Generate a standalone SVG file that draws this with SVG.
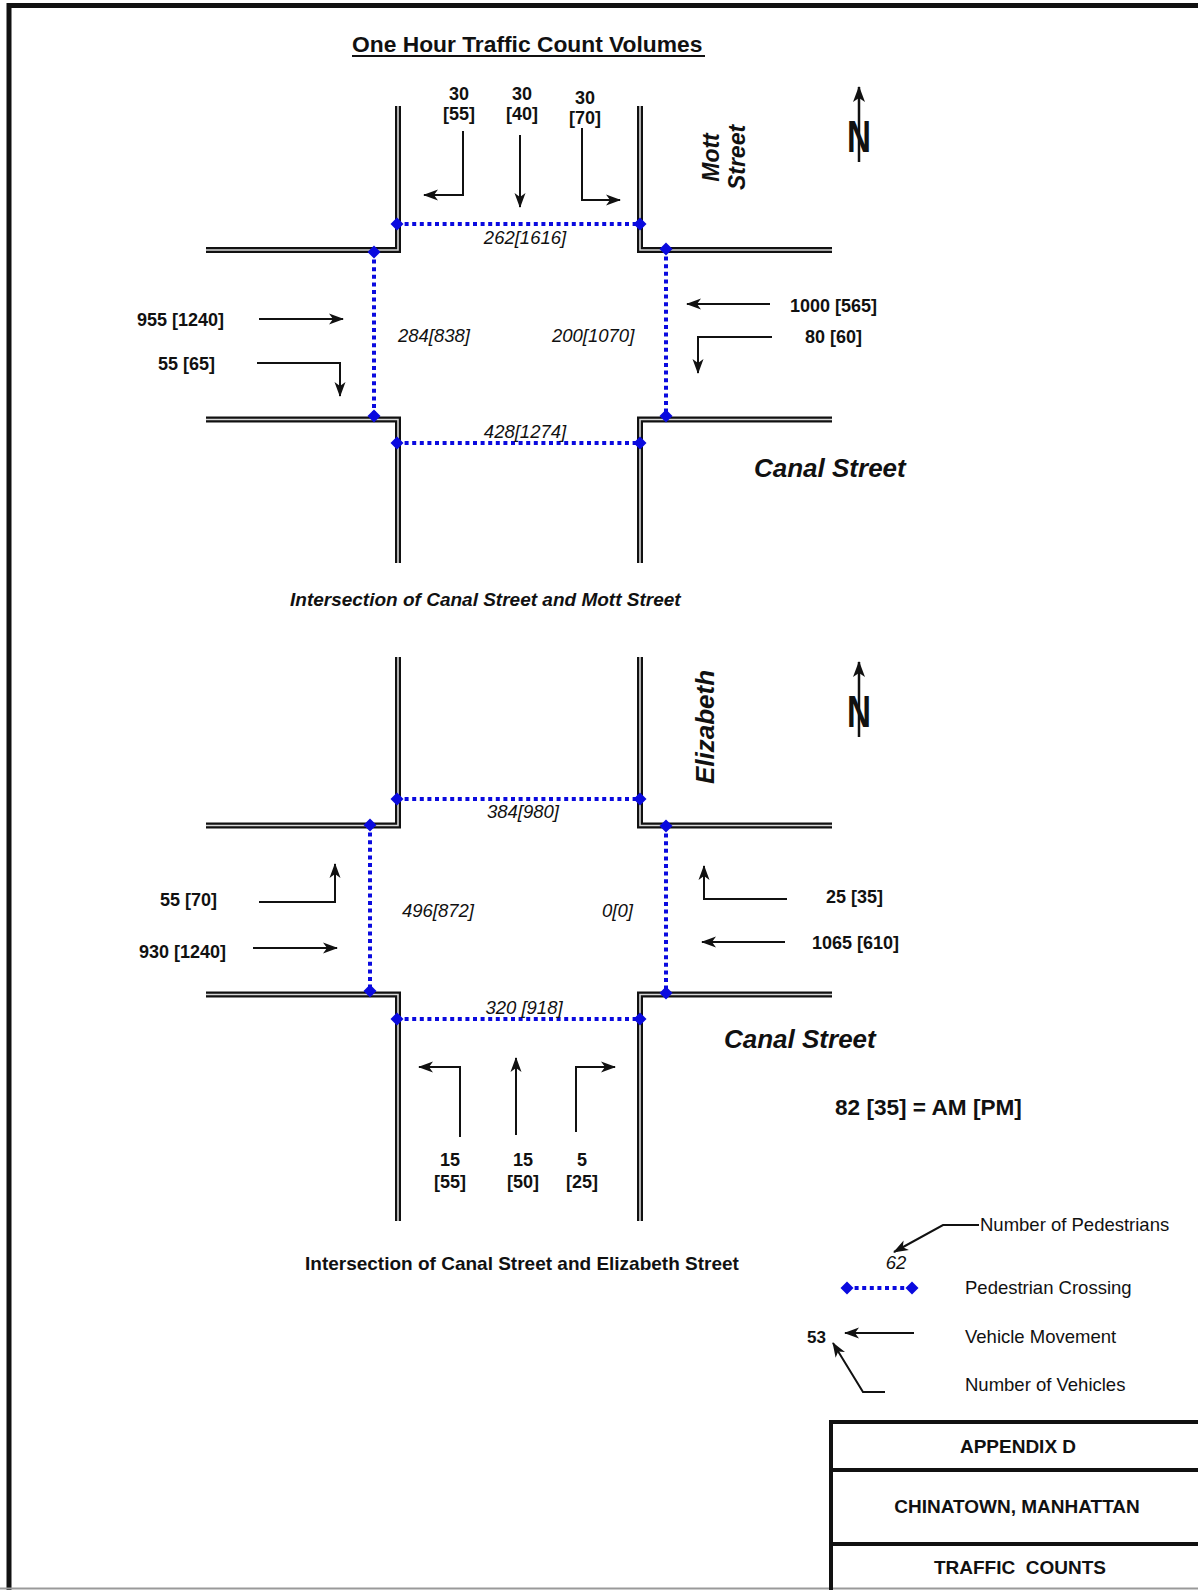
<svg xmlns="http://www.w3.org/2000/svg" width="1198" height="1590" viewBox="0 0 1198 1590">
<style>
text{font-family:"Liberation Sans",Arial,Helvetica,sans-serif;fill:#111}
.b{font-weight:bold}
.i{font-style:italic}
.num{font-size:18px;font-weight:bold}
.ped{font-size:18.5px;font-style:italic}
.road{fill:none;stroke:#111;stroke-width:6}
.roadin{fill:none;stroke:#d8d8d8;stroke-width:1.6}
.arr{fill:none;stroke:#111;stroke-width:2;marker-end:url(#ah)}
.xing{fill:none;stroke:#0a0adf;stroke-width:4;stroke-dasharray:4 3.6}
.leg{font-size:18.5px}
.box{fill:none;stroke:#111;stroke-width:4}
</style>
<defs>
<marker id="ah" markerUnits="userSpaceOnUse" markerWidth="16" markerHeight="12" refX="14" refY="6" orient="auto">
<path d="M0,0.5 L15,6 L0,11.5 L4,6 z" fill="#111"/>
</marker>
<marker id="ahN" markerUnits="userSpaceOnUse" markerWidth="16" markerHeight="14" refX="15" refY="6.5" orient="auto">
<path d="M0,0.5 L16,6.5 L0,12.5 L4,6.5 z" fill="#111"/>
</marker>
<path id="dia" d="M0,-6.5 L6.5,0 L0,6.5 L-6.5,0 z" fill="#0a0adf"/>
</defs>
<rect width="1198" height="1590" fill="#fff"/>

<g id="frame">
<path d="M9,1590 V5.5 H1198" fill="none" stroke="#111" stroke-width="5"/>
<line x1="0" y1="1588.5" x2="1198" y2="1588.5" stroke="#999" stroke-width="2"/>
</g>

<g id="title">
<text x="352" y="52" class="b" font-size="22.8">One Hour Traffic Count Volumes</text>
<line x1="352" y1="56" x2="705" y2="56" stroke="#111" stroke-width="2"/>
</g>

<g id="roads-top">
<path class="road" d="M206,250 H398 V106"/><path class="roadin" d="M206,250 H398 V106"/>
<path class="road" d="M640,106 V250 H832"/><path class="roadin" d="M640,106 V250 H832"/>
<path class="road" d="M206,419.5 H398 V563"/><path class="roadin" d="M206,419.5 H398 V563"/>
<path class="road" d="M832,419.5 H640 V563"/><path class="roadin" d="M832,419.5 H640 V563"/>
</g>

<g id="roads-bottom">
<path class="road" d="M206,825.5 H398 V657"/><path class="roadin" d="M206,825.5 H398 V657"/>
<path class="road" d="M640,657 V825.5 H832"/><path class="roadin" d="M640,657 V825.5 H832"/>
<path class="road" d="M206,994.5 H398 V1221"/><path class="roadin" d="M206,994.5 H398 V1221"/>
<path class="road" d="M832,994.5 H640 V1221"/><path class="roadin" d="M832,994.5 H640 V1221"/>
</g>

<g id="crossings-top">
<line class="xing" x1="397" y1="224" x2="640" y2="224"/>
<line class="xing" x1="374" y1="252" x2="374" y2="416"/>
<line class="xing" x1="666" y1="249" x2="666" y2="416"/>
<line class="xing" x1="397" y1="443" x2="640" y2="443"/>
<use href="#dia" x="397" y="224"/><use href="#dia" x="640" y="224"/>
<use href="#dia" x="374" y="252"/><use href="#dia" x="374" y="416"/>
<use href="#dia" x="666" y="249"/><use href="#dia" x="666" y="416"/>
<use href="#dia" x="397" y="443"/><use href="#dia" x="640" y="443"/>
</g>

<g id="crossings-bottom">
<line class="xing" x1="397" y1="799" x2="640" y2="799"/>
<line class="xing" x1="370" y1="825" x2="370" y2="991"/>
<line class="xing" x1="666" y1="826" x2="666" y2="993"/>
<line class="xing" x1="397" y1="1019" x2="640" y2="1019"/>
<use href="#dia" x="397" y="799"/><use href="#dia" x="640" y="799"/>
<use href="#dia" x="370" y="825"/><use href="#dia" x="370" y="991"/>
<use href="#dia" x="666" y="826"/><use href="#dia" x="666" y="993"/>
<use href="#dia" x="397" y="1019"/><use href="#dia" x="640" y="1019"/>
</g>

<g id="connectors">
<path class="arr" d="M463,131 V195 H424"/>
<path class="arr" d="M520,135 V207"/>
<path class="arr" d="M582,128 V200 H620"/>
<path class="arr" d="M259,319 H343"/>
<path class="arr" d="M257,363 H340 V396"/>
<path class="arr" d="M770,304 H687"/>
<path class="arr" d="M772,337 H698 V373"/>
<path class="arr" d="M259,902 H335 V864"/>
<path class="arr" d="M253,948 H337"/>
<path class="arr" d="M787,899 H704 V866"/>
<path class="arr" d="M785,942 H702"/>
<path class="arr" d="M460,1137 V1067 H419"/>
<path class="arr" d="M516,1135 V1058"/>
<path class="arr" d="M576,1132 V1067 H615"/>
</g>

<g id="labels-top">
<g id="sb-left"><text class="num" x="459" y="100" text-anchor="middle">30</text><text class="num" x="459" y="120" text-anchor="middle">[55]</text></g>
<g id="sb-thru"><text class="num" x="522" y="100" text-anchor="middle">30</text><text class="num" x="522" y="120" text-anchor="middle">[40]</text></g>
<g id="sb-right"><text class="num" x="585" y="104" text-anchor="middle">30</text><text class="num" x="585" y="124" text-anchor="middle">[70]</text></g>
<text id="eb-thru" class="num" x="137" y="326">955 [1240]</text>
<text id="eb-right" class="num" x="158" y="370">55 [65]</text>
<text id="wb-thru" class="num" x="790" y="312">1000 [565]</text>
<text id="wb-left" class="num" x="805" y="343">80 [60]</text>
<text id="ped-n1" class="ped" x="525" y="244" text-anchor="middle">262[1616]</text>
<text id="ped-w1" class="ped" x="398" y="342">284[838]</text>
<text id="ped-e1" class="ped" x="552" y="342">200[1070]</text>
<text id="ped-s1" class="ped" x="525" y="438" text-anchor="middle">428[1274]</text>
<g id="mott"><text class="b i" font-size="23" text-anchor="middle" transform="translate(719,157.5) rotate(-90)">Mott</text>
<text class="b i" font-size="23" text-anchor="middle" transform="translate(745,157.5) rotate(-90)">Street</text></g>
<text id="canal1" class="b i" font-size="26" x="754" y="477">Canal Street</text>
<g id="north1"><line x1="859" y1="162" x2="859" y2="87" stroke="#111" stroke-width="2.5" marker-end="url(#ahN)"/>
<text class="b" font-size="44" x="847" y="152" textLength="24" lengthAdjust="spacingAndGlyphs">N</text></g>
<text id="cap1" class="b i" font-size="19" x="290" y="606">Intersection of Canal Street and Mott Street</text>
</g>

<g id="labels-bottom">
<text id="eb-left2" class="num" x="160" y="906">55 [70]</text>
<text id="eb-thru2" class="num" x="139" y="958">930 [1240]</text>
<text id="wb-right2" class="num" x="826" y="903">25 [35]</text>
<text id="wb-thru2" class="num" x="812" y="949">1065 [610]</text>
<g id="nb-left"><text class="num" x="450" y="1166" text-anchor="middle">15</text><text class="num" x="450" y="1188" text-anchor="middle">[55]</text></g>
<g id="nb-thru"><text class="num" x="523" y="1166" text-anchor="middle">15</text><text class="num" x="523" y="1188" text-anchor="middle">[50]</text></g>
<g id="nb-right"><text class="num" x="582" y="1166" text-anchor="middle">5</text><text class="num" x="582" y="1188" text-anchor="middle">[25]</text></g>
<text id="ped-n2" class="ped" x="523" y="818" text-anchor="middle">384[980]</text>
<text id="ped-w2" class="ped" x="402" y="917">496[872]</text>
<text id="ped-e2" class="ped" x="602" y="917">0[0]</text>
<text id="ped-s2" class="ped" x="524" y="1014" text-anchor="middle">320 [918]</text>
<text id="elizabeth" class="b i" font-size="26" text-anchor="middle" transform="translate(714,727) rotate(-90)">Elizabeth</text>
<text id="canal2" class="b i" font-size="26" x="724" y="1048">Canal Street</text>
<g id="north2"><line x1="859" y1="737" x2="859" y2="662" stroke="#111" stroke-width="2.5" marker-end="url(#ahN)"/>
<text class="b" font-size="44" x="847" y="727" textLength="24" lengthAdjust="spacingAndGlyphs">N</text></g>
<text id="ampm" class="b" font-size="22.6" x="835" y="1115">82 [35] = AM [PM]</text>
<text id="cap2" class="b" font-size="19" x="305" y="1270">Intersection of Canal Street and Elizabeth Street</text>
</g>

<g id="legend">
<g id="leg-peds"><path d="M979,1225 H943 L894,1252" fill="none" stroke="#111" stroke-width="2" marker-end="url(#ah)"/>
<text class="leg" x="980" y="1231">Number of Pedestrians</text>
<text class="i" font-size="18.5" x="896" y="1269" text-anchor="middle">62</text></g>
<g id="leg-xing"><line class="xing" x1="847" y1="1288" x2="912" y2="1288"/>
<use href="#dia" x="847" y="1288"/><use href="#dia" x="912" y="1288"/>
<text class="leg" x="965" y="1294">Pedestrian Crossing</text></g>
<g id="leg-veh"><path class="arr" d="M914,1333 H845"/>
<text class="b" font-size="17" x="807" y="1343">53</text>
<text class="leg" x="965" y="1343">Vehicle Movement</text></g>
<g id="leg-num"><path class="arr" d="M885,1392 H863 L833,1343"/>
<text class="leg" x="965" y="1391">Number of Vehicles</text></g>
</g>

<g id="titleblock">
<path class="box" d="M1200,1422 H831 V1592"/>
<line class="box" x1="831" y1="1470" x2="1200" y2="1470"/>
<line class="box" x1="831" y1="1544" x2="1200" y2="1544"/>
<text class="b" font-size="19" x="1018" y="1453" text-anchor="middle">APPENDIX D</text>
<text class="b" font-size="19" x="1017" y="1513" text-anchor="middle">CHINATOWN, MANHATTAN</text>
<text class="b" font-size="19" x="1020" y="1574" text-anchor="middle" xml:space="preserve">TRAFFIC  COUNTS</text>
</g>
</svg>
